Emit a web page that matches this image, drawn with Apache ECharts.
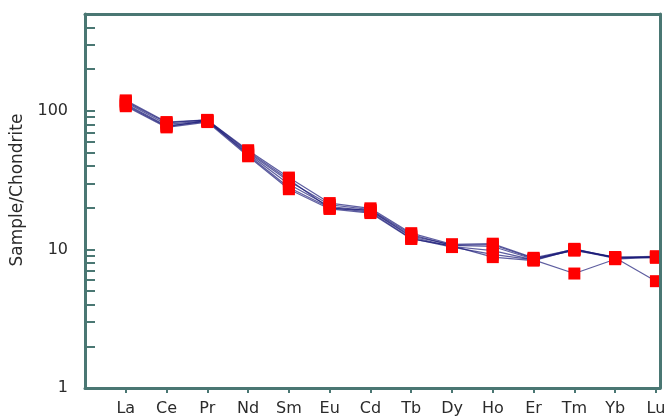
<!DOCTYPE html>
<html>
<head>
<meta charset="utf-8">
<script src="https://cdn.jsdelivr.net/npm/echarts@6/dist/echarts.min.js"></script>
<style>html,body{margin:0;padding:0;background:#fff}#c{width:672px;height:420px}</style>
</head>
<body>
<div id="c"></div>
<script>
// Elements (REE) on x axis
const elements = ['La','Ce','Pr','Nd','Sm','Eu','Cd','Tb','Dy','Ho','Er','Tm','Yb','Lu'];
// Chondrite-normalized values per sample
const sample1 = [119, 83, 86, 52, 33.0, 21.6, 19.8, 13.1, 10.9, 11.0, 8.7, 10.0, 8.8, 8.9];
const sample2 = [115, 80, 85, 50, 31.0, 21.0, 19.4, 12.8, 10.7, 10.5, 8.5, 10.1, 8.7, 8.8];
const sample3 = [112, 78, 84, 49, 29.5, 20.4, 19.0, 12.3, 10.5, 9.8, 8.4, 9.9, 8.6, 8.9];
const sample4 = [110, 77, 85, 48, 28.0, 20.0, 18.6, 12.0, 10.4, 9.2, 8.4, 6.7, 8.5, 8.8];
const sample5 = [108, 76, 83, 47, 27.2, 19.6, 18.3, 11.9, 10.6, 8.8, 8.3, 10.0, 8.7, 5.9];
const sample6 = [117, 82, 86, 51, 32.0, 19.8, 19.2, 12.5, 10.8, 10.8, 8.6, 9.8, 8.8, 8.7];
const samples = [sample1, sample2, sample3, sample4, sample5, sample6];
// Y axis tick values
const yMajorLabels = [1, 10, 100];
const yTicks = [1,2,3,4,5,6,7,8,9,10,20,30,40,50,60,70,80,90,100,200,300,400,500];
const xTickPositions = elements.map((_, i) => i);

const axisColor = '#4a7773';
const textColor = '#2b2b2b';
const font = 'DejaVu Sans';

const lineSeries = samples.map((s, k) => ({
  type: 'line',
  name: 'S' + (k + 1),
  data: s.map((v, i) => [i, v]),
  symbol: 'none',
  z: 2,
  lineStyle: { color: 'rgba(25,25,120,0.7)', width: 1.2 }
}));
const markerSeries = samples.map((s, k) => ({
  type: 'scatter',
  data: s.map((v, i) => [i, v]),
  symbol: 'rect',
  symbolSize: 12,
  z: 3,
  itemStyle: { color: '#ff0000', opacity: 1 }
}));

const chart = echarts.init(document.getElementById('c'), null, { renderer: 'canvas' });
chart.setOption({
  animation: false,
  backgroundColor: '#ffffff',
  grid: { left: 85, right: 12, top: 14, bottom: 32 },
  xAxis: [{
    type: 'value', min: -1, max: 13.1, interval: 1,
    axisLine: { show: true, onZero: false, lineStyle: { color: axisColor, width: 3 } },
    axisTick: { show: true, customValues: xTickPositions, length: 5, lineStyle: { color: axisColor, width: 2 } },
    axisLabel: { customValues: xTickPositions, margin: 13, color: textColor, fontFamily: font, fontSize: 16,
      formatter: v => elements[Math.round(v)] || '' },
    splitLine: { show: false }
  }, {
    type: 'value', position: 'top', min: -1, max: 13.1, interval: 1,
    axisLine: { show: true, onZero: false, lineStyle: { color: axisColor, width: 3 } },
    axisTick: { show: false }, axisLabel: { show: false }, splitLine: { show: false }, z: 5
  }],
  yAxis: [{
    type: 'log', logBase: 10, min: 1, max: 500,
    name: 'Sample/Chondrite', nameLocation: 'middle', nameRotate: 90, nameGap: 54,
    nameTextStyle: { color: textColor, fontFamily: font, fontSize: 17, padding: [0, 0, 0, 22] },
    axisLine: { show: true, onZero: false, lineStyle: { color: axisColor, width: 3 } },
    axisTick: { show: true, inside: true, customValues: yTicks, length: 10, lineStyle: { color: axisColor, width: 2 } },
    axisLabel: { customValues: yMajorLabels, margin: 17, color: textColor, fontFamily: font, fontSize: 16 },
    splitLine: { show: false }
  }, {
    type: 'log', logBase: 10, min: 1, max: 500, position: 'right',
    axisLine: { show: true, onZero: false, lineStyle: { color: axisColor, width: 3 } },
    axisTick: { show: false }, axisLabel: { show: false }, splitLine: { show: false }, z: 5
  }],
  series: lineSeries.concat(markerSeries)
});
</script>
</body>
</html>
